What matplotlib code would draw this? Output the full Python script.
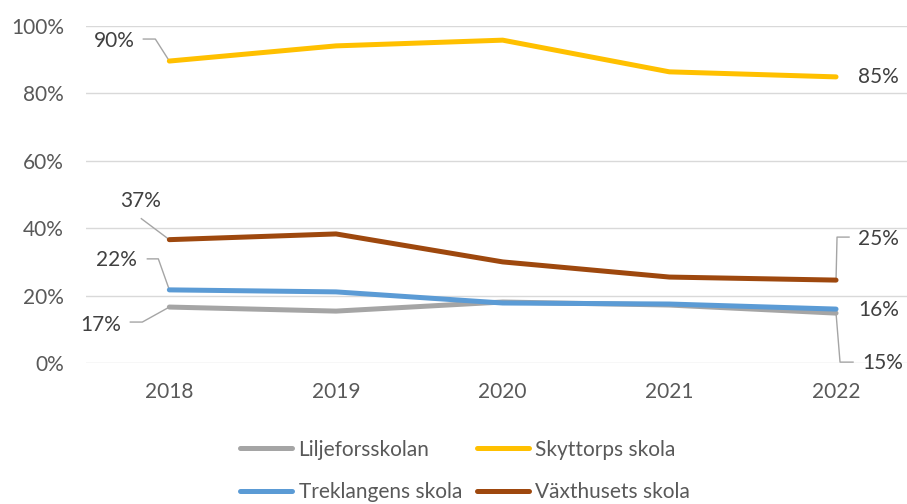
import matplotlib.pyplot as plt
import matplotlib.transforms as mtransforms
import numpy as np

years = ['2018', '2019', '2020', '2021', '2022']
liljefors = [16.6, 15.4, 18.1, 17.2, 14.8]
skyttorp = [89.6, 94.1, 95.8, 86.4, 84.9]
treklangen = [21.7, 21.1, 17.8, 17.5, 16.0]
vaxthuset = [36.6, 38.3, 30.0, 25.5, 24.6]

names = ['Liljeforsskolan', 'Skyttorps skola', 'Treklangens skola', 'Växthusets skola']
colors = ['#A5A5A5', '#FFC000', '#5B9BD5', '#9E480E']

plt.rcParams['font.family'] = ['Lato', 'DejaVu Sans']

fig = plt.figure(figsize=(9.07, 5.04), dpi=100)
ax = fig.add_axes([86 / 907, 141 / 504, 1 - 86 / 907, 337 / 504])

x = np.arange(len(years))
series = [liljefors, skyttorp, treklangen, vaxthuset]
zs = [2, 3, 4, 5]
lines = []
for vals, name, c, z in zip(series, names, colors, zs):
    ln, = ax.plot(x, vals, color=c, lw=3.6, solid_capstyle='round', label=name, zorder=z)
    lines.append(ln)

ax.set_yticks(np.arange(0, 101, 20))
ax.set_yticklabels([f'{v}%' for v in range(0, 101, 20)])
ax.set_xticks(x)
ax.set_xticklabels(years)
ax.grid(axis='y', color='#D9D9D9', lw=1)
ax.set_axisbelow(True)
for s in ax.spines.values():
    s.set_visible(False)
ax.tick_params(length=0, labelsize=15, colors='#595959')
ax.tick_params(axis='y', pad=16)
ax.tick_params(axis='x', pad=14)


def label(i, vals, text_off, ha, pts=None):
    v = vals[i]
    ax.annotate(f'{round(v)}%', (i, v), xytext=text_off, textcoords='offset pixels',
                ha=ha, va='center', fontsize=15, color='#404040', annotation_clip=False)
    if pts:
        tr = mtransforms.ScaledTranslation(i, v, ax.transData)
        px = [0] + [p[0] for p in pts]
        py = [0] + [p[1] for p in pts]
        ax.plot(px, py, color='#A5A5A5', lw=1, transform=mtransforms.Affine2D() + tr,
                clip_on=False, zorder=1)


label(0, skyttorp, (-35, 20), 'right', [(-14, 22), (-26, 22)])
label(4, skyttorp, (22, 0), 'left')
label(0, vaxthuset, (-29, 39), 'center', [(-28, 21)])
label(4, vaxthuset, (22, 41), 'left', [(1, 43), (13, 43)])
label(0, treklangen, (-32, 30), 'right', [(-11, 31), (-22, 31)])
label(4, treklangen, (22, -1), 'left')
label(0, liljefors, (-48, -18), 'right', [(-27, -15), (-39, -15)])
label(4, liljefors, (26, -50), 'left', [(4, -49), (17, -49)])

ax.set_xlim(-0.5, (907 - 169) / 166.75)
ax.set_ylim(0, 100)

# legend is filled column by column, so order it to read row by row
order = [0, 2, 1, 3]
fig.legend([lines[k] for k in order], [names[k] for k in order],
           loc='center', bbox_to_anchor=(465 / 907, 1 - 471 / 504), ncol=2,
           frameon=False, fontsize=15, handlelength=2.5, handletextpad=0.3,
           columnspacing=0.7, labelspacing=1.1, borderpad=0, labelcolor='#595959')

fig.savefig('out.png', dpi=100)
